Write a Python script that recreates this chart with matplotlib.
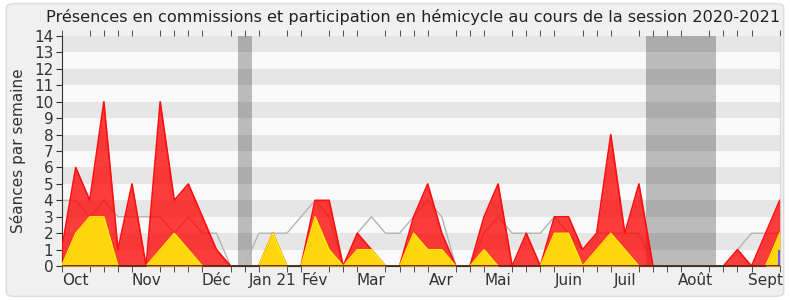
import matplotlib
matplotlib.use("Agg")
import matplotlib.pyplot as plt
from matplotlib.patches import FancyBboxPatch
import numpy as np

# ---- data ----
weeks = list(range(52))
presence_total = [1, 6, 4, 10, 1, 5, 0, 10, 4, 5, 3, 1, 0, 0, 0, 2, 0, 0, 4, 4,
                  0, 2, 1, 0, 0, 3, 5, 2, 0, 0, 3, 5, 0, 2, 0, 3, 3, 1, 2, 8,
                  2, 5, 0, 0, 0, 0, 0, 0, 1, 0, 2, 4]
hemicycle = [0, 2, 3, 3, 0, 0, 0, 1, 2, 1, 0, 0, 0, 0, 0, 2, 0, 0, 3, 1,
             0, 1, 1, 0, 0, 2, 1, 1, 0, 0, 1, 0, 0, 0, 0, 2, 2, 0, 1, 2,
             1, 0, 0, 0, 0, 0, 0, 0, 0, 0, 0, 2]
median = [4, 4, 3, 4, 3, 3, 3, 3, 2, 3, 2, 2, 0, 0, 2, 2, 2, 3, 4, 3,
          0, 2, 3, 2, 2, 3, 4, 3, 0, 0, 2, 3, 2, 2, 2, 3, 2, 1, 2, 2,
          2, 2, 0, 0, 0, 0, 0, 0, 1, 2, 2, 2]
questions = [0] * 51 + [1]
vacances = [(12.5, 13.5), (41.5, 46.5)]
month_labels = ["Oct", "Nov", "Déc", "Jan 21", "Fév", "Mar", "Avr", "Mai",
                "Juin", "Juil", "Août", "Sept"]
month_pos = [1, 6, 11, 15, 18, 22, 27, 31, 36, 40, 45, 50]
title = "Présences en commissions et participation en hémicycle au cours de la session 2020-2021"
ylabel = "Séances par semaine"

plt.rcParams['font.family'] = ['DejaVu Sans']

fig = plt.figure(figsize=(7.9, 3.0), dpi=100, facecolor='white')
bg = FancyBboxPatch((0.008, 0.012), 0.984, 0.976,
                    boxstyle="round,pad=0,rounding_size=0.012",
                    transform=fig.transFigure, facecolor='#f0f0f0',
                    edgecolor='#dcdcdc', linewidth=1.0, zorder=-10)
fig.patches.append(bg)

ax = fig.add_axes([0.078, 0.113, 0.909, 0.767])
ax.set_facecolor('#fafafa')
ax.set_xlim(0, 51)
ax.set_ylim(0, 14)

# stripes
for k in range(7):
    ax.axhspan(2 * k + 1, 2 * k + 2, color='#e6e6e6', zorder=0, lw=0)

# vacation bands
for a, b in vacances:
    ax.axvspan(a, b, color='black', alpha=0.25, zorder=1, lw=0)

x = np.array(weeks)
ax.plot(x, median, color='#b4b4b4', lw=1.0, zorder=2)
ax.fill_between(x, 0, presence_total, color='#ff0000', alpha=0.76, lw=0, zorder=3)
ax.plot(x, presence_total, color='#ff1010', lw=1.2, zorder=4)
ax.fill_between(x, 0, hemicycle, color='#ffd70f', lw=0, zorder=5)
ax.plot(x, hemicycle, color='#ffee00', lw=1.0, zorder=6)
ax.bar(x, questions, width=0.25, color='#6060ff', zorder=7)
ax.axhline(0, color='#4a1a10', lw=1.2, zorder=8)

ax.set_yticks(range(15))
ax.set_yticklabels([str(v) for v in range(15)], fontsize=11, color='#333333')
ax.set_xticks(month_pos)
ax.set_xticklabels(month_labels, fontsize=11, color='#333333')
ax.tick_params(axis='x', which='major', length=0, pad=5)
ax.set_xticks(weeks, minor=True)
ax.tick_params(axis='x', which='minor', length=4, direction='out', color='#333333',
               top=True, bottom=True)
ax.tick_params(axis='y', which='major', length=4, direction='out', color='#333333', pad=2)

ax.spines['left'].set_color('#333333')
ax.spines['bottom'].set_color('#333333')
ax.spines['top'].set_visible(False)
ax.spines['right'].set_color('#d8d8d8')

ax.set_ylabel(ylabel, fontsize=11, color='#333333', labelpad=6)
fig.text(0.523, 0.943, title, ha='center', va='center', fontsize=11.6, color='#222222')

fig.savefig('out.png', dpi=100, facecolor=fig.get_facecolor())
